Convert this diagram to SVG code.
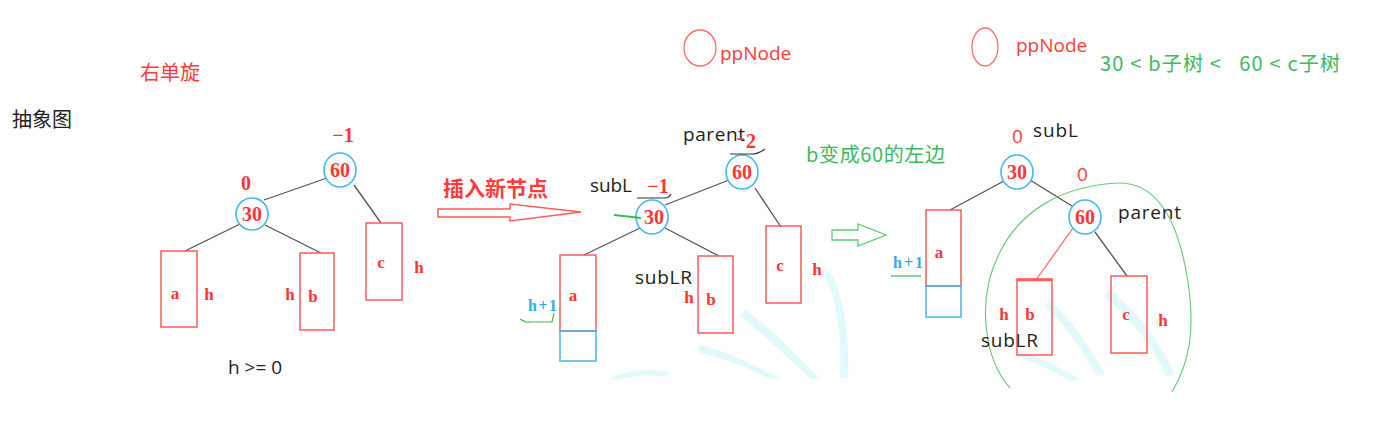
<svg xmlns="http://www.w3.org/2000/svg" width="1374" height="430" viewBox="0 0 1374 430">
<style>
.bg{fill:#ffffff}
.cn{font-family:"Noto Sans CJK SC","Noto Sans",sans-serif}
.red{fill:#ff3b3b}
.blk{fill:#222222}
.grn{fill:#3cba5a}
.lbl{font-family:"Open Sans","Liberation Sans",sans-serif;font-size:19px}
.num{font-family:"Liberation Serif",serif;font-weight:bold;font-size:20px;fill:#ff3535;text-anchor:middle}
.sym{font-family:"Liberation Serif",serif;font-weight:bold;font-size:17px;fill:#ff3535;text-anchor:middle}
.hb{font-family:"Liberation Serif",serif;font-weight:bold;font-size:16px;fill:#33aaee}
.node{fill:#ffffff;stroke:#45b8ee;stroke-width:1.6}
.box{fill:none;stroke:#ff5a5a;stroke-width:1.5}
.bbox{fill:none;stroke:#44b4ee;stroke-width:1.5}
.edge{stroke:#555555;stroke-width:1.3;fill:none}
.redge{stroke:#ff6060;stroke-width:1.2;fill:none}
.wm{fill:#d9f7fa;opacity:0.8}
</style>
<rect class="bg" x="0" y="0" width="1374" height="430"/>

<!-- faint watermark strokes -->
<g id="watermark">
<path class="wm" d="M745,310 C775,330 800,360 820,378 L812,380 C792,362 768,338 740,316 Z"/>
<path class="wm" d="M830,270 C845,300 850,340 848,378 L840,378 C842,340 838,302 824,274 Z"/>
<path class="wm" d="M700,345 C730,352 760,368 780,378 L770,379 C748,368 724,358 698,352 Z"/>
<path class="wm" d="M610,378 C630,370 650,368 670,372 L665,377 C648,374 630,376 615,380 Z"/>
<path class="wm" d="M1050,300 C1070,320 1090,345 1105,375 L1096,376 C1082,348 1064,324 1044,306 Z"/>
<path class="wm" d="M1110,290 C1135,310 1160,340 1175,375 L1166,376 C1152,344 1128,316 1104,296 Z"/>
<path class="wm" d="M1020,350 C1045,360 1065,370 1080,380 L1070,381 C1056,372 1038,364 1016,356 Z"/>
</g>

<!-- titles -->
<g id="titles">
<text class="cn red" x="140" y="80" font-size="20" textLength="60">右单旋</text>
<text class="cn blk" x="12" y="127" font-size="20" textLength="60">抽象图</text>
<text class="lbl blk" x="228" y="374" font-size="22" xml:space="preserve">h &gt;= 0</text>
<text class="cn grn" x="806" y="162" font-size="20" textLength="139">b变成60的左边</text>
<text class="cn grn" x="1100" y="71" font-size="20" xml:space="preserve" textLength="240">30 &lt; b子树 &lt;   60 &lt; c子树</text>
</g>

<!-- ppNode markers -->
<g id="ppnode1">
<ellipse cx="700" cy="48" rx="16" ry="18" fill="none" stroke="#ff6a6a" stroke-width="1.3"/>
<text class="lbl red" x="720" y="60" font-size="23">ppNode</text>
</g>
<g id="ppnode2">
<ellipse cx="985" cy="47" rx="13" ry="19" fill="none" stroke="#ff6a6a" stroke-width="1.3"/>
<text class="lbl red" x="1016" y="52" font-size="22">ppNode</text>
</g>

<!-- connectors -->
<g id="connectors">
<!-- tree 1 -->
<line class="edge" x1="327" y1="178" x2="264" y2="200"/>
<line class="edge" x1="354" y1="185" x2="381" y2="223"/>
<line class="edge" x1="240" y1="224" x2="185" y2="251"/>
<line class="edge" x1="265" y1="225" x2="321" y2="253"/>
<!-- tree 2 -->
<line class="edge" x1="729" y1="180" x2="665" y2="205"/>
<line class="edge" x1="755" y1="188" x2="781" y2="227"/>
<line class="edge" x1="640" y1="228" x2="584" y2="255"/>
<line class="edge" x1="665" y1="228" x2="719" y2="256"/>
<!-- tree 3 -->
<line class="edge" x1="1004" y1="181" x2="950" y2="210"/>
<line class="edge" x1="1030" y1="180" x2="1072" y2="206"/>
<line class="redge" x1="1073" y1="228" x2="1036" y2="280"/>
<line class="edge" x1="1095" y1="232" x2="1127" y2="276"/>
<!-- hollow arrows -->
<path d="M438,209 L510,209 L510,204 L581,212 L510,221 L510,217 L438,217 Z" fill="none" stroke="#ff5a5a" stroke-width="1.5"/>
<path d="M832,230 L858,230 L858,224 L886,235 L858,246 L858,240 L832,240 Z" fill="none" stroke="#5ccc77" stroke-width="1.3"/>
</g>

<text class="cn red" x="443" y="196" font-size="21" font-weight="bold">插入新节点</text>

<!-- ===== Tree 1 ===== -->
<g id="t1-n60">
<ellipse class="node" cx="340" cy="170" rx="16" ry="17"/>
<text class="num" x="340" y="177">60</text>
<text class="num" x="343" y="142">−1</text>
</g>
<g id="t1-n30">
<ellipse class="node" cx="252" cy="214" rx="16" ry="16"/>
<text class="num" x="252" y="221">30</text>
<text class="num" x="246" y="190">0</text>
</g>
<g id="t1-a">
<rect class="box" x="161" y="251" width="36" height="76"/>
<text class="sym" x="175" y="299">a</text>
<text class="sym" x="209" y="300">h</text>
</g>
<g id="t1-b">
<rect class="box" x="300" y="253" width="34" height="77"/>
<text class="sym" x="313" y="302">b</text>
<text class="sym" x="290" y="300">h</text>
</g>
<g id="t1-c">
<rect class="box" x="366" y="223" width="36" height="77"/>
<text class="sym" x="381" y="268">c</text>
<text class="sym" x="419" y="273">h</text>
</g>

<!-- ===== Tree 2 ===== -->
<g id="t2-n60">
<ellipse class="node" cx="742" cy="172" rx="16" ry="17"/>
<text class="num" x="742" y="179">60</text>
<text class="lbl blk" x="683" y="141" font-size="20" textLength="62">parent</text>
<text class="num" x="751" y="148" font-size="21">2</text>
<line x1="737" y1="139" x2="744" y2="139" stroke="#ff3535" stroke-width="1.5"/>
<path d="M730,154 L752,154 C758,154 762,151 765,149" fill="none" stroke="#333" stroke-width="1.2"/>
</g>
<g id="t2-n30">
<ellipse class="node" cx="652" cy="217" rx="16" ry="17"/>
<text class="num" x="654" y="224">30</text>
<text class="lbl blk" x="590" y="192" font-size="20" textLength="42">subL</text>
<text class="num" x="658" y="193">−1</text>
<path d="M637,198 L665,198 C668,198 670,196 671,194" fill="none" stroke="#333" stroke-width="1.2"/>
<line x1="614" y1="215" x2="641" y2="218" stroke="#3cba5a" stroke-width="2"/>
</g>
<g id="t2-a">
<rect class="box" x="560" y="255" width="36" height="76"/>
<rect class="bbox" x="560" y="331" width="36" height="30"/>
<text class="sym" x="573" y="301">a</text>
<text class="hb" x="528" y="311" textLength="29">h+1</text>
<path d="M520,319 C523,321 526,323 530,322 L552,322 L554,313" fill="none" stroke="#3cba5a" stroke-width="1.2"/>
</g>
<g id="t2-b">
<rect class="box" x="698" y="256" width="35" height="77"/>
<text class="sym" x="711" y="305">b</text>
<text class="sym" x="689" y="303">h</text>
<text class="lbl blk" x="635" y="284" font-size="20" textLength="57">subLR</text>
</g>
<g id="t2-c">
<rect class="box" x="766" y="226" width="35" height="77"/>
<text class="sym" x="780" y="271">c</text>
<text class="sym" x="817" y="275">h</text>
</g>

<!-- ===== Tree 3 ===== -->
<path d="M1010,388 C985,360 975,300 1000,252 C1020,212 1060,186 1118,183 C1162,182 1180,230 1188,282 C1195,330 1190,362 1172,392" fill="none" stroke="#6acb7f" stroke-width="1.2"/>
<g id="t3-n30">
<ellipse class="node" cx="1017" cy="172" rx="16" ry="17"/>
<text class="num" x="1017" y="179">30</text>
<text class="lbl red" x="1012" y="143" font-size="20">0</text>
<text class="lbl blk" x="1033" y="137" font-size="20" textLength="45">subL</text>
</g>
<g id="t3-n60">
<ellipse class="node" cx="1085" cy="217" rx="16" ry="17"/>
<text class="num" x="1085" y="224">60</text>
<text class="lbl red" x="1077" y="181" font-size="20">0</text>
<text class="lbl blk" x="1118" y="219" font-size="20" textLength="63">parent</text>
</g>
<g id="t3-a">
<rect class="box" x="926" y="210" width="35" height="76"/>
<rect class="bbox" x="926" y="286" width="35" height="31"/>
<text class="sym" x="939" y="258">a</text>
<text class="hb" x="893" y="268" textLength="30">h+1</text>
<line x1="891" y1="276" x2="921" y2="276" stroke="#3cba5a" stroke-width="1.2"/>
</g>
<g id="t3-b">
<rect class="box" x="1017" y="279" width="35" height="76"/>
<line x1="1017" y1="280" x2="1052" y2="280" stroke="#ff5a5a" stroke-width="2.5"/>
<text class="sym" x="1030" y="320">b</text>
<text class="sym" x="1004" y="320">h</text>
<text class="lbl blk" x="981" y="347" font-size="20" textLength="57">subLR</text>
</g>
<g id="t3-c">
<rect class="box" x="1111" y="276" width="36" height="77"/>
<text class="sym" x="1126" y="320">c</text>
<text class="sym" x="1163" y="326">h</text>
</g>
</svg>
